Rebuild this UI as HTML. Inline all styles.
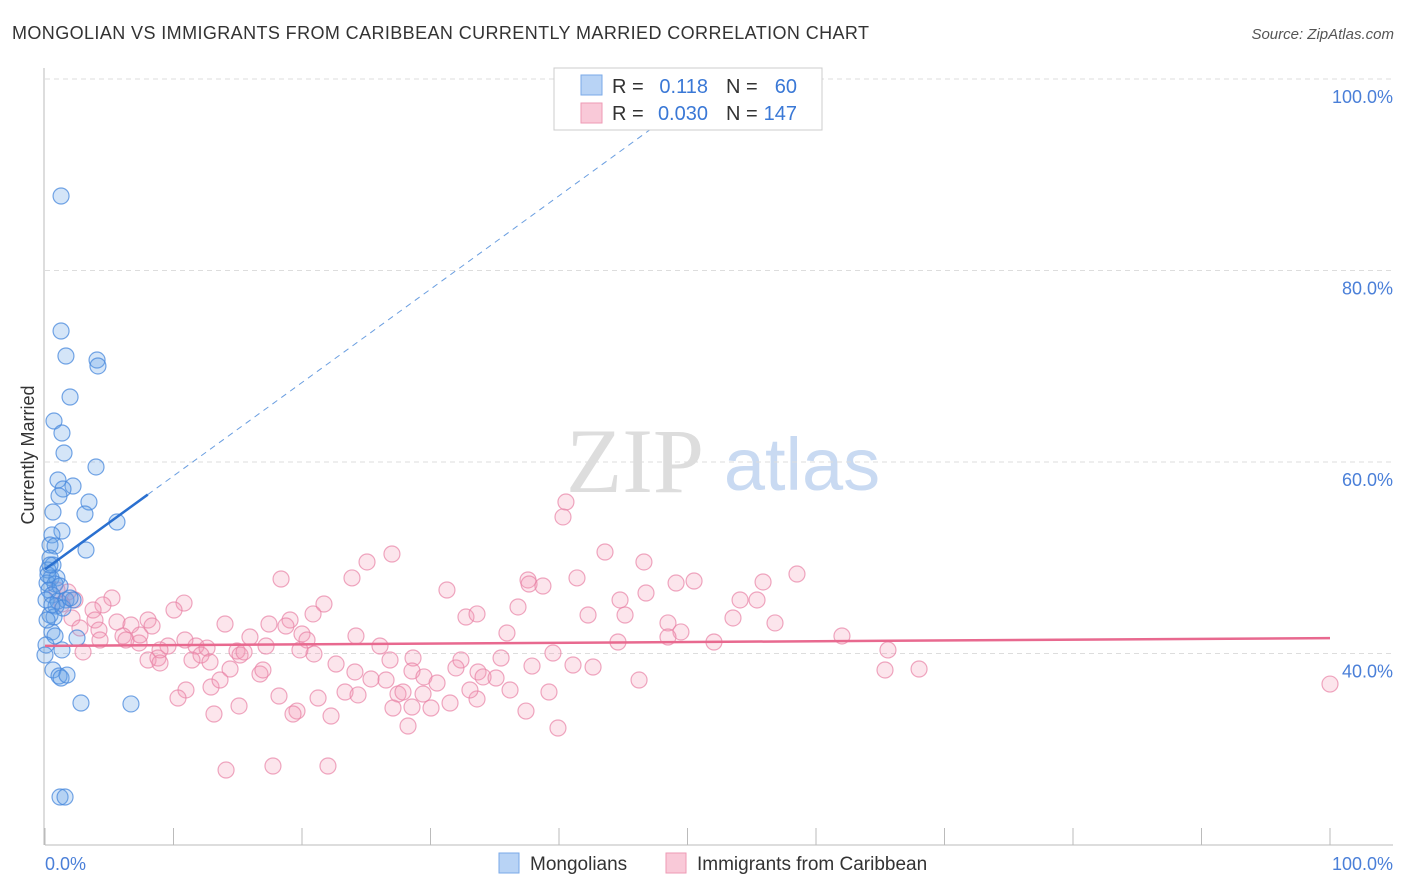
<!DOCTYPE html>
<html><head><meta charset="utf-8"><style>
body{margin:0;background:#fff;font-family:"Liberation Sans",sans-serif;}
svg{display:block}
</style></head><body>
<svg id="chart" width="1406" height="892" xmlns="http://www.w3.org/2000/svg">
<text x="12" y="39" font-size="18" fill="#333" textLength="857" lengthAdjust="spacing">MONGOLIAN VS IMMIGRANTS FROM CARIBBEAN CURRENTLY MARRIED CORRELATION CHART</text>
<text x="1394" y="39" font-size="15" fill="#555" font-style="italic" text-anchor="end">Source: ZipAtlas.com</text>
<g>
<text x="635" y="492" font-family="Liberation Serif,serif" font-size="92" fill="#ddd" text-anchor="middle">ZIP</text>
<text x="802" y="490" font-size="74" fill="#c9daf2" text-anchor="middle">atlas</text>
</g>
<g id="grid"></g>
<g id="axes"></g>
<g id="marks"></g>
<text transform="translate(34,455) rotate(-90)" font-size="18" fill="#333" text-anchor="middle">Currently Married</text>
<text x="45" y="870" font-size="18" fill="#4a7fd8">0.0%</text>
<text x="1393" y="870" font-size="18" fill="#4a7fd8" text-anchor="end">100.0%</text>
<g>
<rect x="554" y="68" width="268" height="62" fill="#fff" stroke="#ccc"/>
<rect x="581" y="75" width="21" height="20" fill="#b8d3f5" stroke="#7aaae8"/>
<rect x="581" y="103" width="21" height="20" fill="#f9c9d8" stroke="#ee9ab5"/>
<text x="612" y="93" font-size="20" fill="#333">R = </text><text x="708" y="93" font-size="20" fill="#3a78d6" text-anchor="end">0.118</text>
<text x="726" y="93" font-size="20" fill="#333">N = </text><text x="797" y="93" font-size="20" fill="#3a78d6" text-anchor="end">60</text>
<text x="612" y="120" font-size="20" fill="#333">R = </text><text x="708" y="120" font-size="20" fill="#3a78d6" text-anchor="end">0.030</text>
<text x="726" y="120" font-size="20" fill="#333">N = </text><text x="797" y="120" font-size="20" fill="#3a78d6" text-anchor="end">147</text>
</g>
<g>
<rect x="499" y="853" width="20" height="20" fill="#b8d3f5" stroke="#7aaae8"/>
<text x="530" y="870" font-size="19" fill="#333">Mongolians</text>
<rect x="666" y="853" width="20" height="20" fill="#f9c9d8" stroke="#ee9ab5"/>
<text x="697" y="870" font-size="19" fill="#333">Immigrants from Caribbean</text>
</g>
</svg>
<script>
const yTicks=[40,60,80,100];
const yTickLabels=["40.0%","60.0%","80.0%","100.0%"];
const xTicks=[0,10,20,30,40,50,60,70,80,90,100];
const bluePx=[[61,196],[61,331],[66,356],[97,360],[98,366],[70,397],[54,421],[62,433],[64,453],[96,467],[58,480],[73,486],[63,489],[59,496],[89,502],[85,514],[53,512],[62,531],[117,522],[52,535],[50,545],[55,546],[86,550],[50,558],[53,565],[48,570],[51,578],[57,578],[47,583],[55,584],[49,590],[60,586],[52,595],[46,600],[58,601],[66,600],[73,600],[56,606],[50,615],[54,617],[52,632],[55,636],[77,638],[46,645],[62,650],[53,670],[59,676],[61,678],[67,675],[81,703],[131,704],[60,797],[65,797],[48,575],[52,605],[47,620],[63,608],[70,598],[45,655],[50,565]];
const pinkPx=[[566,502],[563,517],[605,552],[644,562],[392,554],[367,562],[797,574],[281,579],[352,578],[528,580],[577,578],[529,584],[543,586],[676,583],[694,581],[763,582],[646,593],[447,590],[112,598],[57,590],[68,592],[75,600],[103,605],[184,603],[324,604],[518,607],[588,615],[625,615],[757,600],[62,604],[93,610],[174,610],[313,614],[466,617],[477,614],[733,618],[148,620],[95,620],[117,622],[131,625],[152,626],[225,624],[269,624],[290,620],[286,626],[668,623],[775,623],[507,633],[681,632],[842,636],[72,618],[80,628],[99,630],[123,636],[126,640],[139,643],[168,646],[196,646],[207,648],[201,655],[237,651],[250,637],[266,646],[302,634],[307,640],[356,636],[380,646],[553,653],[618,642],[668,637],[714,642],[888,650],[83,652],[148,660],[158,658],[160,663],[192,660],[210,662],[240,655],[244,652],[314,654],[336,664],[413,658],[461,660],[501,658],[573,665],[593,667],[230,669],[260,674],[263,670],[355,672],[371,679],[386,680],[412,671],[424,677],[437,683],[456,668],[478,672],[483,677],[496,678],[532,666],[639,680],[885,670],[919,669],[186,690],[211,687],[279,696],[318,698],[345,692],[358,695],[398,694],[403,692],[423,694],[450,703],[477,699],[549,692],[178,698],[239,706],[297,711],[331,716],[412,707],[431,708],[393,708],[526,711],[214,714],[293,714],[408,726],[558,728],[226,770],[273,766],[328,766],[1330,684],[140,635],[160,650],[100,640],[185,640],[220,680],[300,650],[390,660],[470,690],[510,690],[620,600],[740,600]];
// data values (percent)
const blueX=bluePx.map(p=>+((p[0]-45)/12.85).toFixed(2));
const blueY=bluePx.map(p=>+(100-(p[1]-79)/9.575).toFixed(2));
const pinkX=pinkPx.map(p=>+((p[0]-45)/12.85).toFixed(2));
const pinkY=pinkPx.map(p=>+(100-(p[1]-79)/9.575).toFixed(2));
const blueFit=[48.8,0.975];
const pinkFit=[40.8,0.008];

const X=v=>45+v*12.85, Y=v=>79+(100-v)*9.575;
const NS="http://www.w3.org/2000/svg";
function mk(tag,attrs,parent){const e=document.createElementNS(NS,tag);for(const k in attrs)e.setAttribute(k,attrs[k]);parent.appendChild(e);return e;}
const grid=document.getElementById('grid'),axes=document.getElementById('axes'),marks=document.getElementById('marks');
yTicks.forEach((t,i)=>{
 const g=mk('line',{x1:45,x2:1393,y1:Y(t),y2:Y(t),stroke:'#ddd','stroke-dasharray':'5,4'},grid);
 
 
 const l=mk('text',{x:1393,y:Y(t)+24,'font-size':18,fill:'#4a7fd8','text-anchor':'end'},grid);
 l.textContent=yTickLabels[i];
 
 
});
const ya=mk('line',{x1:44,x2:44,y1:68,y2:845,stroke:'#bbb'},axes);


const xa=mk('line',{x1:45,x2:1393,y1:845,y2:845,stroke:'#bbb'},axes);


xTicks.forEach(t=>{
 const tk=mk('line',{x1:X(t),x2:X(t),y1:828,y2:845,stroke:'#bbb'},axes);
 
 
});
pinkX.forEach((x,i)=>{
 const c=mk('circle',{cx:X(x),cy:Y(pinkY[i]),r:8,fill:'rgba(242,150,180,0.25)',stroke:'rgba(232,130,165,0.7)','stroke-width':1.2},marks);
 
 
});
blueX.forEach((x,i)=>{
 const c=mk('circle',{cx:X(x),cy:Y(blueY[i]),r:8,fill:'rgba(100,160,230,0.28)',stroke:'rgba(70,135,220,0.75)','stroke-width':1.2},marks);
 
 
});
const pl=mk('line',{x1:X(0),y1:Y(pinkFit[0]),x2:X(100),y2:Y(pinkFit[0]+pinkFit[1]*100),stroke:'#e8698f','stroke-width':2.5},marks);


const bl=mk('line',{x1:X(0),y1:Y(blueFit[0]),x2:X(8),y2:Y(blueFit[0]+blueFit[1]*8),stroke:'#2a70d0','stroke-width':2.5},marks);


const bd=mk('line',{x1:X(8),y1:Y(blueFit[0]+blueFit[1]*8),x2:X(47.5),y2:Y(blueFit[0]+blueFit[1]*47.5),stroke:'#6a9ee0','stroke-width':1,'stroke-dasharray':'6,5'},marks);


</script>
</body></html>
